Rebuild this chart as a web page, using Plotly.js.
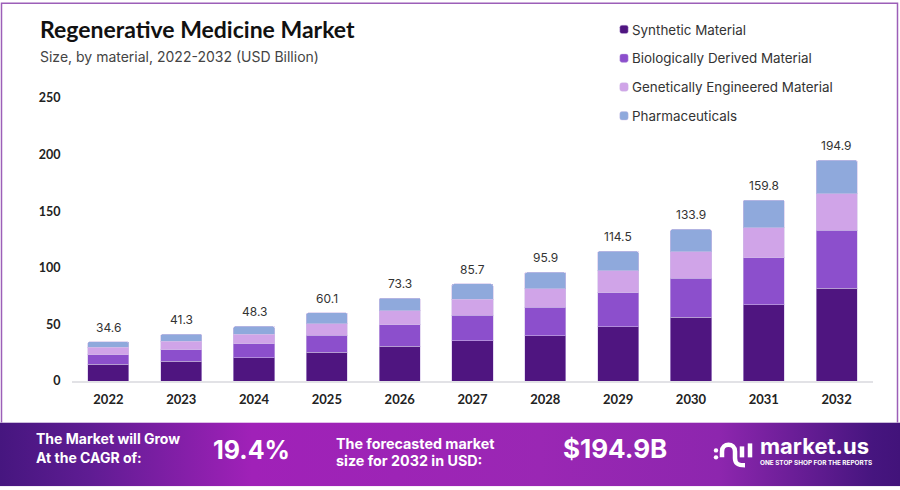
<!DOCTYPE html>
<html><head><meta charset="utf-8">
<script src="https://cdn.plot.ly/plotly-3.0.1.min.js"></script>
<style>
html,body{margin:0;padding:0;background:#fff;width:900px;height:490px;overflow:hidden}
#chart{width:900px;height:490px}
g.legendpoints path{transform:translate(32px,0) scale(.7) !important}
</style></head><body><div id="chart"></div>
<script>
const years=['2022','2023','2024','2025','2026','2027','2028','2029','2030','2031','2032'];
const totals=[34.6,41.3,48.3,60.1,73.3,85.7,95.9,114.5,133.9,159.8,194.9];
const synthetic=[14.6,17.5,20.7,25.3,30.6,35.6,40.0,48.0,56.4,67.5,82.0];
const biological=[8.8,10.3,12.4,15.0,19.2,22.4,25.0,30.0,34.4,41.5,51.0];
const genetic=[6.2,7.4,8.0,10.3,12.3,14.4,16.3,19.2,23.3,26.6,32.6];
const pharma=[5.0,6.1,7.2,9.5,11.2,13.3,14.6,17.3,19.8,24.2,29.3];
const seriesNames=['Synthetic Material','Biologically Derived Material','Genetically Engineered Material','Pharmaceuticals'];
const seriesColors=['#4f1580','#8c4fcc','#d0a4e8','#8fa9dc'];
const seriesValues=[synthetic,biological,genetic,pharma];

const W=900,H=490,L=72,R=27,T=98,B=108.5;
const pw=W-L-R,ph=H-T-B;
const X=p=>(p-L)/pw, Y=p=>(H-B-p)/ph;
const SANS='Inter, "Noto Sans", sans-serif', HEAD='Lato, "Liberation Sans", sans-serif';

const traces=seriesNames.map((n,i)=>({type:'bar',name:n,x:years,y:seriesValues[i],width:0.565,
  legendgroup:'g'+i,marker:{color:seriesColors[i],line:{color:'rgba(208,190,232,0.55)',width:1}},hoverinfo:'y+name'}));

function txt(px,py,text,size,opt={}){return Object.assign({xref:'paper',yref:'paper',x:X(px-1),y:Y(py),text,showarrow:false,borderpad:0,
  xanchor:'left',yanchor:'middle',align:'left',font:{family:SANS,size,color:'#fff',weight:700}},opt);}

const totalLabels=years.map((y,i)=>({xref:'x',yref:'y',x:i,y:totals[i],text:totals[i].toFixed(1),showarrow:false,
  xanchor:'center',yanchor:'bottom',yshift:5,font:{family:SANS,size:12,color:'#333'}}));

const gradient=`<svg xmlns="http://www.w3.org/2000/svg" width="900" height="64" preserveAspectRatio="none"><defs><linearGradient id="g"><stop offset="0" stop-color="#46167f"/><stop offset=".1" stop-color="#5f1c93"/><stop offset=".28" stop-color="#a021b8"/><stop offset=".6" stop-color="#9a27b4"/><stop offset=".8" stop-color="#8d26ae"/><stop offset=".97" stop-color="#46157f"/><stop offset="1" stop-color="#42137a"/></linearGradient></defs><rect width="900" height="64" fill="url(#g)"/></svg>`;

const logo=[
 `M ${X(722)} ${Y(458)} L ${X(722)} ${Y(452)} C ${X(722)} ${Y(443)} ${X(735)} ${Y(443)} ${X(735)} ${Y(452)} L ${X(735)} ${Y(459)} C ${X(735)} ${Y(465)} ${X(739)} ${Y(466)} ${X(745)} ${Y(466)}`,
 `M ${X(742)} ${Y(447)} L ${X(742)} ${Y(458)}`,
 `M ${X(750)} ${Y(444)} L ${X(750)} ${Y(458)}`
];
const dot=(cx,cy)=>({type:'circle',xref:'paper',yref:'paper',x0:X(cx-2.2),x1:X(cx+2.2),y0:Y(cy+2.2),y1:Y(cy-2.2),fillcolor:'#fff',line:{width:0}});

const layout={width:W,height:H,autosize:false,paper_bgcolor:'#fff',plot_bgcolor:'rgba(0,0,0,0)',
 margin:{l:L,r:R,t:T,b:B,pad:0},barmode:'stack',barcornerradius:2,
 title:{text:'Regenerative Medicine Market',font:{family:HEAD,size:23,color:'#111',weight:700},xref:'container',x:40/W,xanchor:'left',yref:'container',y:1-30/H,yanchor:'middle'},
 xaxis:{type:'category',categories:years,range:[-0.5,10.5],showgrid:false,zeroline:false,showline:true,linecolor:'#e2e2e6',linewidth:1.5,
   ticks:'outside',ticklen:6,tickcolor:'rgba(0,0,0,0)',tickfont:{family:HEAD,size:13,color:'#222',weight:700},fixedrange:true},
 yaxis:{range:[0,250],tickvals:[0,50,100,150,200,250],showgrid:false,zeroline:false,showline:false,ticks:'outside',ticklen:8,
   tickcolor:'rgba(0,0,0,0)',tickfont:{family:HEAD,size:12.5,color:'#222',weight:700},fixedrange:true},
 legend:{x:X(592),y:Y(14),xanchor:'left',yanchor:'top',traceorder:'grouped',tracegroupgap:8.4,font:{family:SANS,size:13.4,color:'#333'},bgcolor:'rgba(0,0,0,0)',itemclick:false,itemdoubleclick:false},
 images:[{source:'data:image/svg+xml;utf8,'+encodeURIComponent(gradient),xref:'paper',yref:'paper',x:X(0),y:Y(423),sizex:900/pw,sizey:64/ph,xanchor:'left',yanchor:'top',sizing:'stretch',layer:'below'}],
 shapes:[
  {type:'path',xref:'paper',yref:'paper',path:`M ${X(1.5)} ${Y(423)} L ${X(1.5)} ${Y(3)} L ${X(897.5)} ${Y(3)} L ${X(897.5)} ${Y(423)}`,line:{color:'#9c5fb8',width:1.5},layer:'below'},
  ...logo.map(p=>({type:'path',xref:'paper',yref:'paper',path:p,line:{color:'#fff',width:4.5,cap:'round'},layer:'above'})),
  dot(716,451),dot(716,458)
 ],
 annotations:[
  txt(40,56,'Size, by material, 2022-2032 (USD Billion)',14,{font:{family:SANS,size:14,color:'#444',weight:400}}),
  txt(36,439.5,'The Market will Grow',14),
  txt(36,458,'At the CAGR of:',14),
  txt(213,451,'19.4%',25),
  txt(336,444,'The forecasted market',14.3),
  txt(336,461,'size for 2032 in USD:',14.3),
  txt(563,449,'$194.9B',26),
  txt(760,447,'market.us',22),
  txt(760,464,'ONE STOP SHOP FOR THE REPORTS',6.4),
  ...totalLabels
 ],
 showlegend:true,hovermode:'closest'};
Plotly.newPlot('chart',traces,layout,{displayModeBar:false,responsive:false});
</script></body></html>
